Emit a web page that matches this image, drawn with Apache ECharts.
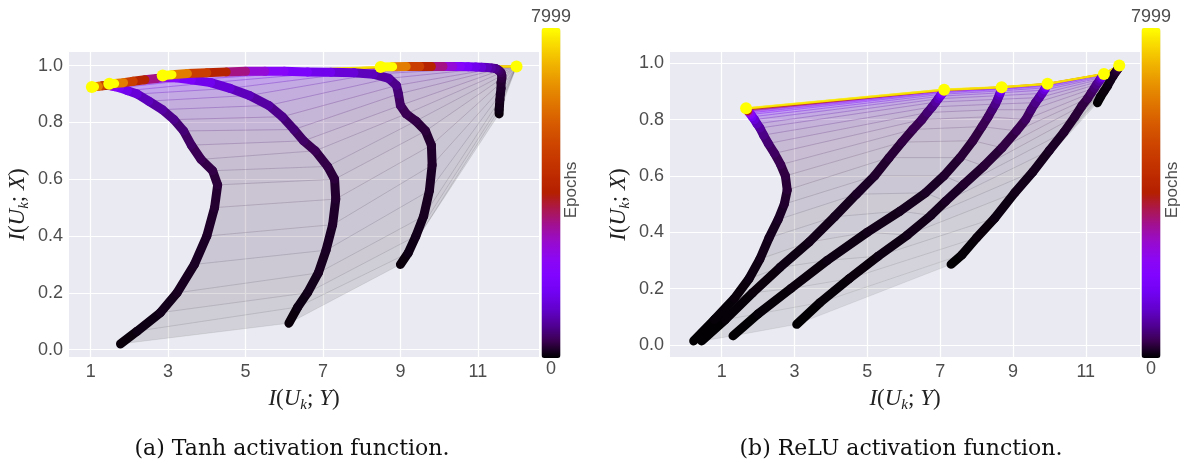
<!DOCTYPE html>
<html><head><meta charset="utf-8">
<script src="https://cdn.jsdelivr.net/npm/echarts@6/dist/echarts.min.js"></script>
<style>html,body{margin:0;padding:0;background:#fff}#c{width:1190px;height:464px}</style>
</head><body><div id="c"></div>
<script>
// ---------- data ----------
const X_TICKS = [1, 3, 5, 7, 9, 11];
const Y_TICKS = [0, 0.2, 0.4, 0.6, 0.8, 1.0];
const EPOCH_MIN = 0, EPOCH_MAX = 7999;
const COLORBAR_TEXT = ['7999', '0'];

// (a) Tanh
const TANH_EPOCHS = [0, 60, 100, 130, 160, 190, 220, 250, 300, 360, 430, 520, 620, 750, 900, 1080, 1300, 1550, 1850, 2200, 2700, 3300, 4100, 5000, 6300, 7999];
const TANH_L1_X = [1.77, 2.2, 2.8, 3.23, 3.68, 4.0, 4.2, 4.28, 4.15, 3.85, 3.6, 3.4, 3.15, 2.85, 2.5, 2.2, 1.95, 1.75, 1.62, 1.55, 1.47, 1.38, 1.3, 1.2, 1.1, 1.03];
const TANH_L1_Y = [0.02, 0.065, 0.13, 0.2, 0.3, 0.4, 0.5, 0.58, 0.63, 0.67, 0.72, 0.77, 0.81, 0.845, 0.875, 0.9, 0.912, 0.922, 0.926, 0.928, 0.93, 0.93, 0.929, 0.927, 0.926, 0.925];
const TANH_L2_X = [6.12, 6.35, 6.6, 6.88, 7.08, 7.25, 7.33, 7.3, 7.12, 6.8, 6.5, 6.25, 5.95, 5.6, 5.1, 4.6, 4.1, 3.6, 3.2, 2.95, 2.7, 2.4, 2.1, 1.85, 1.62, 1.48];
const TANH_L2_Y = [0.093, 0.15, 0.2, 0.27, 0.35, 0.44, 0.53, 0.6, 0.645, 0.7, 0.735, 0.775, 0.82, 0.86, 0.895, 0.92, 0.94, 0.95, 0.957, 0.958, 0.955, 0.95, 0.945, 0.94, 0.937, 0.936];
const TANH_L3_X = [9.0, 9.2, 9.4, 9.6, 9.75, 9.82, 9.8, 9.65, 9.4, 9.15, 9.0, 8.95, 8.9, 8.7, 8.3, 7.8, 7.2, 6.6, 6.0, 5.5, 5.0, 4.5, 4.0, 3.5, 3.1, 2.86];
const TANH_L3_Y = [0.3, 0.34, 0.4, 0.47, 0.56, 0.65, 0.72, 0.77, 0.805, 0.83, 0.86, 0.9, 0.93, 0.955, 0.97, 0.975, 0.977, 0.978, 0.98, 0.98, 0.98, 0.978, 0.975, 0.972, 0.968, 0.965];
const TANH_L4_X = [11.55, 11.55, 11.56, 11.57, 11.58, 11.6, 11.6, 11.62, 11.62, 11.6, 11.55, 11.5, 11.45, 11.35, 11.25, 11.1, 10.95, 10.75, 10.55, 10.35, 10.1, 9.8, 9.5, 9.15, 8.8, 8.49];
const TANH_L4_Y = [0.83, 0.845, 0.86, 0.88, 0.9, 0.92, 0.94, 0.955, 0.965, 0.975, 0.982, 0.987, 0.99, 0.992, 0.993, 0.994, 0.995, 0.996, 0.997, 0.997, 0.997, 0.997, 0.997, 0.997, 0.996, 0.995];
const TANH_L5_X = [11.99, 11.99, 11.99, 12.0, 12.0, 12.0, 12.0, 12.0, 12.0, 12.0, 12.0, 12.0, 12.0, 12.0, 12.0, 12.0, 12.0, 12.0, 12.0, 12.0, 12.0, 12.0, 12.0, 12.0, 12.0, 12.0];
const TANH_L5_Y = [0.994, 0.995, 0.996, 0.996, 0.997, 0.997, 0.997, 0.997, 0.997, 0.997, 0.997, 0.997, 0.997, 0.997, 0.997, 0.997, 0.997, 0.997, 0.997, 0.997, 0.997, 0.997, 0.997, 0.997, 0.997, 0.997];

// (b) ReLU
const RELU_EPOCHS = [0, 20, 40, 60, 90, 120, 150, 190, 230, 280, 340, 410, 500, 600, 720, 860, 1050, 1300, 1600, 2000, 2500, 3100, 3900, 4900, 6300, 7999];
const RELU_L1_X = [0.23, 0.8, 1.35, 1.75, 2.05, 2.3, 2.55, 2.72, 2.8, 2.75, 2.62, 2.45, 2.28, 2.15, 2.05, 1.97, 1.9, 1.84, 1.8, 1.76, 1.73, 1.71, 1.7, 1.69, 1.68, 1.67];
const RELU_L1_Y = [0.014, 0.09, 0.165, 0.235, 0.305, 0.38, 0.445, 0.5, 0.55, 0.6, 0.64, 0.68, 0.715, 0.745, 0.77, 0.785, 0.8, 0.81, 0.818, 0.824, 0.829, 0.832, 0.835, 0.837, 0.839, 0.84];
const RELU_L2_X = [0.45, 1.1, 1.85, 2.6, 3.4, 4.1, 4.7, 5.2, 5.6, 5.95, 6.25, 6.5, 6.65, 6.78, 6.88, 6.95, 7.0, 7.04, 7.07, 7.09, 7.1, 7.1, 7.11, 7.11, 7.11, 7.11];
const RELU_L2_Y = [0.014, 0.09, 0.185, 0.275, 0.365, 0.455, 0.535, 0.6, 0.665, 0.72, 0.765, 0.8, 0.825, 0.845, 0.862, 0.874, 0.883, 0.89, 0.895, 0.899, 0.902, 0.903, 0.904, 0.905, 0.906, 0.906];
const RELU_L3_X = [1.31, 2.0, 2.9, 3.9, 5.0, 5.9, 6.6, 7.1, 7.55, 7.9, 8.15, 8.32, 8.43, 8.52, 8.58, 8.62, 8.65, 8.67, 8.68, 8.69, 8.69, 8.69, 8.69, 8.69, 8.69, 8.69];
const RELU_L3_Y = [0.032, 0.11, 0.2, 0.3, 0.4, 0.475, 0.54, 0.6, 0.665, 0.725, 0.775, 0.81, 0.835, 0.855, 0.872, 0.885, 0.895, 0.902, 0.907, 0.91, 0.912, 0.913, 0.914, 0.915, 0.915, 0.915];
const RELU_L4_X = [3.06, 3.7, 4.5, 5.3, 6.1, 6.75, 7.15, 7.65, 8.2, 8.7, 9.1, 9.35, 9.5, 9.62, 9.72, 9.8, 9.86, 9.9, 9.92, 9.94, 9.95, 9.95, 9.95, 9.95, 9.95, 9.95];
const RELU_L4_Y = [0.073, 0.15, 0.235, 0.315, 0.39, 0.46, 0.51, 0.57, 0.635, 0.7, 0.76, 0.8, 0.835, 0.86, 0.878, 0.893, 0.905, 0.913, 0.918, 0.922, 0.924, 0.926, 0.927, 0.927, 0.927, 0.927];
const RELU_L5_X = [7.3, 7.6, 8.0, 8.5, 9.05, 9.55, 10.0, 10.4, 10.7, 10.9, 11.05, 11.15, 11.24, 11.3, 11.36, 11.4, 11.43, 11.46, 11.48, 11.49, 11.5, 11.5, 11.5, 11.5, 11.5, 11.5];
const RELU_L5_Y = [0.286, 0.32, 0.38, 0.45, 0.54, 0.615, 0.69, 0.755, 0.81, 0.85, 0.875, 0.895, 0.912, 0.925, 0.935, 0.943, 0.949, 0.954, 0.958, 0.96, 0.961, 0.962, 0.962, 0.962, 0.962, 0.962];
const RELU_L6_X = [11.32, 11.4, 11.5, 11.6, 11.68, 11.75, 11.8, 11.84, 11.87, 11.89, 11.9, 11.91, 11.91, 11.92, 11.92, 11.92, 11.92, 11.92, 11.92, 11.92, 11.92, 11.92, 11.92, 11.92, 11.92, 11.92];
const RELU_L6_Y = [0.86, 0.88, 0.9, 0.92, 0.94, 0.955, 0.965, 0.972, 0.978, 0.982, 0.985, 0.987, 0.989, 0.99, 0.991, 0.992, 0.992, 0.992, 0.992, 0.992, 0.992, 0.992, 0.992, 0.992, 0.992, 0.992];

const CAPTIONS = ['(a) Tanh activation function.', '(b) ReLU activation function.'];
const COLORBAR_TITLE = 'Epochs';

// ---------- style ----------
// matplotlib "gnuplot" colormap, evenly spaced stops
const GNUPLOT = ['#000000','#39004f','#510096','#6301ce','#7202f3','#8004ff','#8c07f3','#970bce','#a11096','#ab174f',
                 '#b42000','#bd2a00','#c63700','#ce4600','#d55700','#dd6c00','#e48300','#eb9d00','#f2ba00','#f9db00','#ffff00'];
const TICK_COLOR = '#4d4d4d';
const SANS = 'Liberation Sans';
const SERIF = 'Liberation Serif';

const panels = [
  { epochs: TANH_EPOCHS, layers: [[TANH_L1_X, TANH_L1_Y], [TANH_L2_X, TANH_L2_Y], [TANH_L3_X, TANH_L3_Y], [TANH_L4_X, TANH_L4_Y], [TANH_L5_X, TANH_L5_Y]],
    grid: { left: 69, top: 52, width: 470, height: 305 }, xr: [0.44, 12.58], yr: [-0.026, 1.048],
    vm: { left: 531, top: 8 }, title: { x: 571, y: 190 }, caption: { x: 292, y: 449 } },
  { epochs: RELU_EPOCHS, layers: [[RELU_L1_X, RELU_L1_Y], [RELU_L2_X, RELU_L2_Y], [RELU_L3_X, RELU_L3_Y], [RELU_L4_X, RELU_L4_Y], [RELU_L5_X, RELU_L5_Y], [RELU_L6_X, RELU_L6_Y]],
    grid: { left: 670, top: 52, width: 470, height: 305 }, xr: [-0.42, 12.49], yr: [-0.043, 1.040],
    vm: { left: 1131, top: 8 }, title: { x: 1172, y: 190 }, caption: { x: 901, y: 449 } }
];

const rich = {
  i: { fontFamily: SERIF, fontStyle: 'italic', fontSize: 23, color: '#222', lineHeight: 28 },
  n: { fontFamily: SERIF, fontSize: 23, color: '#222', lineHeight: 28 },
  s: { fontFamily: SERIF, fontStyle: 'italic', fontSize: 15, color: '#222', lineHeight: 28, verticalAlign: 'bottom' }
};
const X_NAME = '{i|I}{n|(}{i|U}{s|k}{n|; }{i|Y}{n|)}';
const Y_NAME = '{i|I}{n|(}{i|U}{s|k}{n|; }{i|X}{n|)}';

const grids = [], xAxes = [], yAxes = [], series = [], visualMaps = [], graphics = [];
const tOf = e => (e - EPOCH_MIN) / (EPOCH_MAX - EPOCH_MIN);

panels.forEach((P, pi) => {
  grids.push(Object.assign({ show: true, backgroundColor: '#eaeaf2', borderWidth: 0 }, P.grid));
  xAxes.push({ gridIndex: pi, type: 'value', min: P.xr[0], max: P.xr[1],
    axisLine: { show: false }, axisTick: { show: false, customValues: X_TICKS },
    axisLabel: { customValues: X_TICKS, color: TICK_COLOR, fontSize: 18, fontFamily: SANS, margin: 6 },
    splitLine: { show: true, lineStyle: { color: '#ffffff', width: 1.2 } },
    name: X_NAME, nameLocation: 'middle', nameGap: 28, nameTextStyle: { rich } });
  yAxes.push({ gridIndex: pi, type: 'value', min: P.yr[0], max: P.yr[1],
    axisLine: { show: false }, axisTick: { show: false, customValues: Y_TICKS },
    axisLabel: { customValues: Y_TICKS, color: TICK_COLOR, fontSize: 18, fontFamily: SANS, margin: 6, formatter: v => v.toFixed(1) },
    splitLine: { show: true, lineStyle: { color: '#ffffff', width: 1.2 } },
    name: Y_NAME, nameLocation: 'middle', nameGap: 37, nameTextStyle: { rich } });

  const E = P.epochs, L = P.layers, N = E.length;
  const fill = [], rungs = [], paths = [], ends = [];
  for (let i = 0; i < N - 1; i++) {
    for (let j = 0; j < L.length - 1; j++) {
      const a = L[j], b = L[j + 1];
      fill.push([a[0][i], a[1][i], E[i + 1], b[0][i], b[1][i], b[0][i + 1], b[1][i + 1], a[0][i + 1], a[1][i + 1]]);
    }
  }
  for (let i = 0; i < N; i++) {
    const v = [L[0][0][i], L[0][1][i], E[i]];
    for (let j = 1; j < L.length; j++) v.push(L[j][0][i], L[j][1][i]);
    rungs.push(v);
  }
  for (let i = 0; i < N - 1; i++) {
    for (let j = 0; j < L.length; j++) {
      paths.push([L[j][0][i], L[j][1][i], E[i + 1], L[j][0][i + 1], L[j][1][i + 1]]);
    }
  }
  L.forEach(l => ends.push([l[0][N - 1], l[1][N - 1], E[N - 1]]));

  const base = series.length;
  series.push({ type: 'custom', name: 'fill' + pi, xAxisIndex: pi, yAxisIndex: pi, data: fill, silent: true, z: 1,
    renderItem: (params, api) => {
      const pts = [[0, 1], [3, 4], [5, 6], [7, 8]].map(k => api.coord([api.value(k[0]), api.value(k[1])]));
      const t = tOf(api.value(2));
      return { type: 'polygon', shape: { points: pts }, style: { fill: api.visual('color'), opacity: 0.055 + 0.6 * Math.sqrt(t) } };
    } });
  series.push({ type: 'custom', name: 'rungs' + pi, xAxisIndex: pi, yAxisIndex: pi, data: rungs, silent: true, z: 2,
    renderItem: (params, api) => {
      const pts = [api.coord([api.value(0), api.value(1)])];
      for (let j = 1; j < L.length; j++) pts.push(api.coord([api.value(1 + 2 * j), api.value(2 + 2 * j)]));
      const t = tOf(api.value(2));
      return { type: 'polyline', shape: { points: pts },
        style: { fill: null, stroke: api.visual('color'), lineWidth: 0.7 + 1.7 * t, opacity: 0.1 + 0.68 * Math.sqrt(t) } };
    } });
  series.push({ type: 'custom', name: 'paths' + pi, xAxisIndex: pi, yAxisIndex: pi, data: paths, silent: true, z: 3,
    renderItem: (params, api) => {
      const p1 = api.coord([api.value(0), api.value(1)]), p2 = api.coord([api.value(3), api.value(4)]);
      return { type: 'line', shape: { x1: p1[0], y1: p1[1], x2: p2[0], y2: p2[1] },
        style: { stroke: api.visual('color'), lineWidth: 9, lineCap: 'round' } };
    } });
  series.push({ type: 'scatter', name: 'ends' + pi, xAxisIndex: pi, yAxisIndex: pi, data: ends, symbolSize: 12, silent: true, z: 4,
    itemStyle: { opacity: 1 } });

  visualMaps.push({ type: 'continuous', min: EPOCH_MIN, max: EPOCH_MAX, dimension: 2,
    seriesIndex: [base, base + 1, base + 2, base + 3], inRange: { color: GNUPLOT },
    orient: 'vertical', left: P.vm.left, top: P.vm.top, padding: 0, itemWidth: 19, itemHeight: 330,
    text: COLORBAR_TEXT, textGap: 2, calculable: false, hoverLink: false,
    textStyle: { color: TICK_COLOR, fontSize: 18, fontFamily: SANS } });

  graphics.push({ type: 'text', id: 'ep' + pi, x: P.title.x, y: P.title.y, rotation: Math.PI / 2, z: 100,
    style: { text: COLORBAR_TITLE, fill: TICK_COLOR, fontSize: 17, fontFamily: SANS, align: 'center', verticalAlign: 'middle' } });
  graphics.push({ type: 'text', id: 'cap' + pi, x: P.caption.x, y: P.caption.y, z: 100,
    style: { text: CAPTIONS[pi], fill: '#111', fontSize: 22, fontFamily: 'DejaVu Serif', align: 'center', verticalAlign: 'middle' } });
});

const chart = echarts.init(document.getElementById('c'), null, { renderer: 'canvas' });
chart.setOption({
  animation: false, backgroundColor: '#ffffff',
  grid: grids, xAxis: xAxes, yAxis: yAxes, visualMap: visualMaps, series, graphic: graphics
});
</script></body></html>
